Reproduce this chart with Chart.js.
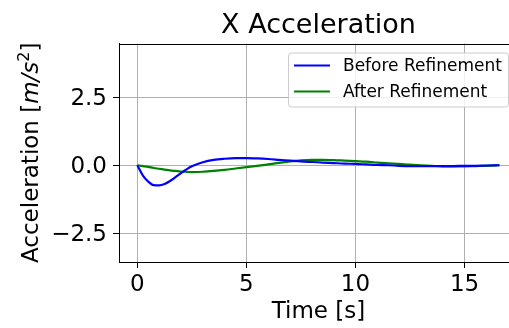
<!DOCTYPE html>
<html>
<head>
<meta charset="utf-8">
<title>X Acceleration</title>
<script src="https://cdn.jsdelivr.net/npm/chart.js@4.4.1/dist/chart.umd.min.js"></script>
<style>
  html, body { margin: 0; padding: 0; background: #fff; overflow: hidden; }
  #wrap { width: 518px; height: 328px; }
</style>
</head>
<body>
<div id="wrap"><canvas id="chart" width="518" height="328"></canvas></div>
<script>
// [1] DATA
const TIME = [0, 0.25, 0.5, 0.75, 1, 1.25, 1.5, 1.75, 2,
  2.5, 3, 3.5, 4, 4.5, 5, 5.5, 6, 6.5, 7, 7.5, 8, 8.5, 9, 9.5, 10,
  10.5, 11, 11.5, 12, 12.5, 13, 13.5, 14, 14.5, 15, 15.5, 16, 16.6];
const BEFORE = [0, -0.37, -0.6, -0.73, -0.74, -0.69, -0.58, -0.44, -0.29,
  -0.04, 0.11, 0.2, 0.24, 0.26, 0.26, 0.25, 0.23, 0.2, 0.17, 0.14, 0.12, 0.1, 0.08, 0.06, 0.05,
  0.03, 0.01, 0.0, -0.02, -0.03, -0.03, -0.03, -0.03, -0.03, -0.02, -0.02, -0.01, 0];
const AFTER = [0, -0.03, -0.06, -0.1, -0.13, -0.16, -0.19, -0.21, -0.23,
  -0.25, -0.24, -0.21, -0.17, -0.12, -0.07, -0.02, 0.03, 0.09, 0.14, 0.18, 0.2, 0.2, 0.19, 0.17, 0.15,
  0.13, 0.1, 0.07, 0.05, 0.02, 0.0, -0.02, -0.04, -0.04, -0.04, -0.03, -0.02, 0];
const SERIES_LABELS = ['Before Refinement', 'After Refinement'];

const X_TICKS = [0, 5, 10, 15];
const Y_TICKS = [-2.5, 0, 2.5];
const Y_TICK_LABELS = ['\u22122.5', '0.0', '2.5'];
const X_RANGE = [-0.84, 17.45];
const Y_RANGE = [-3.56, 4.48];

const TITLE = 'X Acceleration';
const X_LABEL = 'Time [s]';

// [2] STYLE
const FONT = 'DejaVu Sans';
const GRID = '#b0b0b0';

// [3] PLUGINS: title, y label with math, top spine, legend box
const decor = {
  id: 'decor',
  afterDraw(chart) {
    const { ctx, chartArea: a } = chart;
    ctx.save();

    // top spine
    ctx.strokeStyle = '#000';
    ctx.lineWidth = 1;
    ctx.beginPath();
    ctx.moveTo(a.left, Math.round(a.top) + 0.5);
    ctx.lineTo(a.right, Math.round(a.top) + 0.5);
    ctx.stroke();

    // title
    ctx.fillStyle = '#000';
    ctx.font = `27px "${FONT}"`;
    ctx.textAlign = 'center';
    ctx.textBaseline = 'alphabetic';
    ctx.fillText(TITLE, (a.left + a.right) / 2, 33);

    // y label: Acceleration [m/s^2]
    const parts = [
      { t: 'Acceleration [', f: `23px "${FONT}"`, dy: 0 },
      { t: 'm/s', f: `italic 23px "${FONT}"`, dy: 0 },
      { t: '2', f: `16px "${FONT}"`, dy: -9 },
      { t: ']', f: `23px "${FONT}"`, dy: 0 }
    ];
    let total = 0;
    parts.forEach(p => { ctx.font = p.f; p.w = ctx.measureText(p.t).width; total += p.w; });
    ctx.translate(38, (a.top + a.bottom) / 2);
    ctx.rotate(-Math.PI / 2);
    ctx.textAlign = 'left';
    let x = -total / 2;
    parts.forEach(p => { ctx.font = p.f; ctx.fillText(p.t, x, p.dy); x += p.w; });
    ctx.setTransform(1, 0, 0, 1, 0, 0);

    // legend
    const bx = a.right - 230, by = a.top + 9, bw = 220, bh = 54;
    ctx.fillStyle = 'rgba(255,255,255,0.8)';
    ctx.strokeStyle = '#cccccc';
    ctx.lineWidth = 1;
    ctx.beginPath();
    ctx.roundRect(bx + 0.5, by + 0.5, bw, bh, 3);
    ctx.fill();
    ctx.stroke();
    ctx.font = `17px "${FONT}"`;
    ctx.textBaseline = 'middle';
    chart.data.datasets.forEach((ds, i) => {
      const ly = by + 13 + i * 26;
      ctx.strokeStyle = ds.borderColor;
      ctx.lineWidth = 2.2;
      ctx.beginPath();
      ctx.moveTo(bx + 6, ly);
      ctx.lineTo(bx + 42, ly);
      ctx.stroke();
      ctx.fillStyle = '#000';
      ctx.fillText(ds.label, bx + 55, ly + 1);
    });
    ctx.restore();
  }
};

// [4] CHART
const toPts = ys => TIME.map((t, i) => ({ x: t, y: ys[i] }));

new Chart(document.getElementById('chart'), {
  type: 'line',
  data: {
    datasets: [
      { label: SERIES_LABELS[0], data: toPts(BEFORE), borderColor: '#0000ff', borderWidth: 2.2,
        pointRadius: 0, cubicInterpolationMode: 'monotone', fill: false },
      { label: SERIES_LABELS[1], data: toPts(AFTER), borderColor: '#008000', borderWidth: 2.2,
        pointRadius: 0, cubicInterpolationMode: 'monotone', fill: false }
    ]
  },
  options: {
    responsive: false,
    animation: false,
    events: [],
    layout: { padding: { top: 43.5, left: 0, right: 0, bottom: 0 } },
    plugins: { legend: { display: false }, tooltip: { enabled: false }, title: { display: false } },
    scales: {
      x: {
        type: 'linear',
        min: X_RANGE[0], max: X_RANGE[1],
        afterBuildTicks: s => { s.ticks = X_TICKS.map(v => ({ value: v })); },
        afterFit: s => { s.height = 66; },
        grid: { color: GRID, lineWidth: 1, drawTicks: true, tickLength: 6, tickColor: '#000', tickWidth: 1 },
        border: { display: true, color: '#000', width: 1 },
        ticks: { color: '#000', font: { family: FONT, size: 23 }, padding: 3, maxRotation: 0,
                 callback: v => String(v) },
        title: { display: true, text: X_LABEL, color: '#000', font: { family: FONT, size: 23 },
                 padding: { top: 0, bottom: 2 } }
      },
      y: {
        type: 'linear',
        min: Y_RANGE[0], max: Y_RANGE[1],
        afterBuildTicks: s => { s.ticks = Y_TICKS.map(v => ({ value: v })); },
        afterFit: s => { s.width = 119; },
        grid: { color: GRID, lineWidth: 1, drawTicks: true, tickLength: 6, tickColor: '#000', tickWidth: 1 },
        border: { display: true, color: '#000', width: 1 },
        ticks: { color: '#000', font: { family: FONT, size: 23 }, padding: 6, labelOffset: 2,
                 callback: v => Y_TICK_LABELS[Y_TICKS.indexOf(v)] }
      }
    }
  },
  plugins: [decor]
});
</script>
</body>
</html>
